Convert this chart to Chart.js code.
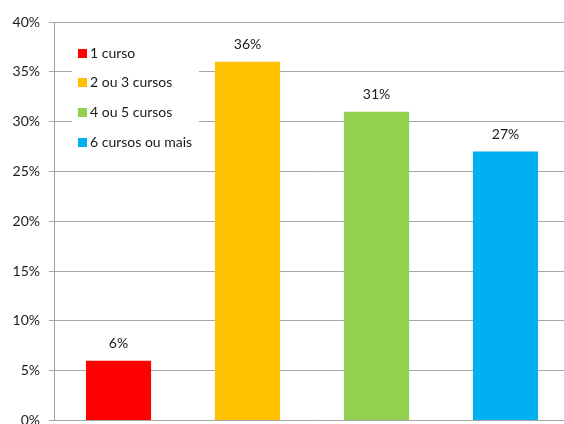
<!DOCTYPE html>
<html>
<head>
<meta charset="utf-8">
<script src="https://cdn.jsdelivr.net/npm/chart.js@4"></script>
<style>
  html, body { margin: 0; padding: 0; background: #fff; overflow: hidden; }
  #wrap { width: 564px; height: 424px; overflow: hidden; position: relative; }
  #wrap canvas { position: absolute; left: 0; top: 0; }
</style>
</head>
<body>
<div id="wrap"><canvas id="grafico" width="570" height="438"></canvas></div>
<script>
// categorias e valores (%)
var categorias = ["1 curso", "2 ou 3 cursos", "4 ou 5 cursos", "6 cursos ou mais"];
var valores = [6, 36, 31, 27];
var cores = ["#ff0000", "#ffc000", "#92d050", "#00b0f0"];
var ticksY = [0, 5, 10, 15, 20, 25, 30, 35, 40];

var fonte = "Lato, 'Open Sans', sans-serif";
var corTexto = "#1a1a1a";

// Escreve o valor em cima de cada barra
var rotulos = {
    id: 'rotulos',
    afterDatasetsDraw: function(chart) {
        var ctx = chart.ctx;
        var meta = chart.getDatasetMeta(0);
        ctx.save();
        ctx.font = "14px " + fonte;
        ctx.fillStyle = corTexto;
        ctx.textAlign = "center";
        ctx.textBaseline = "bottom";
        meta.data.forEach(function(bar, i) {
            ctx.fillText(valores[i] + "%", bar.x, bar.y - 10);
        });
        ctx.restore();
    }
};

// Legenda dentro da área do gráfico, com fundo branco por cima das linhas
var legenda = {
    id: 'legenda',
    afterDatasetsDraw: function(chart) {
        var ctx = chart.ctx;
        var x0 = 72, y0 = 38;
        ctx.save();
        ctx.fillStyle = "#fff";
        ctx.fillRect(x0, y0, 127, 118);
        ctx.font = "14px " + fonte;
        ctx.textBaseline = "middle";
        ctx.textAlign = "left";
        categorias.forEach(function(nome, i) {
            var y = 53 + i * 29.7;
            ctx.fillStyle = cores[i];
            ctx.fillRect(78, Math.round(y - 4.5), 9, 9);
            ctx.fillStyle = corTexto;
            ctx.fillText(nome, 90, y);
        });
        ctx.restore();
    }
};

var ctx = document.getElementById("grafico").getContext("2d");
var chart = new Chart(ctx, {
    type: 'bar',
    data: {
        labels: categorias,
        datasets: [{
            data: valores,
            backgroundColor: cores,
            borderWidth: 0,
            barPercentage: 0.505,
            categoryPercentage: 1
        }]
    },
    options: {
        responsive: false,
        animation: false,
        devicePixelRatio: 1,
        layout: { padding: { top: 22, bottom: 4, left: 0, right: 0 } },
        plugins: {
            legend: { display: false },
            tooltip: { enabled: false }
        },
        scales: {
            x: { display: false },
            y: {
                min: 0,
                max: 40,
                afterFit: function(scale) { scale.width = 54; },
                afterBuildTicks: function(scale) {
                    scale.ticks = ticksY.map(function(v) { return { value: v }; });
                },
                ticks: {
                    padding: 9,
                    color: corTexto,
                    font: { family: fonte, size: 14 },
                    callback: function(v) { return v + "%"; }
                },
                grid: {
                    color: "#a6a6a6",
                    lineWidth: 1,
                    tickLength: 5
                },
                border: { color: "#a0a0a0", width: 1 }
            }
        }
    },
    plugins: [rotulos, legenda]
});
</script>
</body>
</html>
